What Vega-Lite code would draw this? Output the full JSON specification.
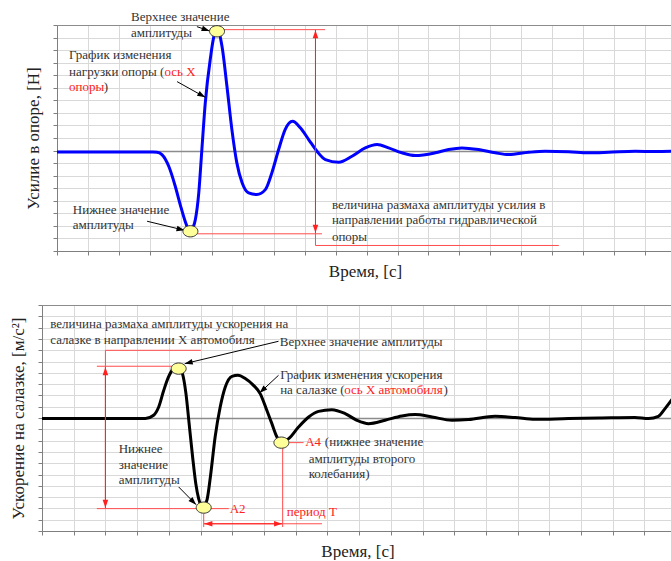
{
  "$schema": "https://vega.github.io/schema/vega-lite/v6.json",
  "background": "white",
  "padding": {"left": 0, "top": 10, "right": 0, "bottom": 0},
  "spacing": 24,
  "config": {
    "view": {"stroke": null},
    "axis": {"grid": true, "gridColor": "#d9d9d9", "gridWidth": 1, "domainColor": "#7f7f7f", "tickColor": "#7f7f7f", "tickSize": 4, "labels": false, "titleFont": "Liberation Serif", "titleFontSize": 17, "titleFontWeight": "normal", "titleColor": "#222222", "titlePadding": 10},
    "axisX": {"titlePadding": 8},
    "axisY": {"gridColor": {"condition": {"test": "datum.value === 0 || datum.value === 10", "value": "#8c8c8c"}, "value": "#d9d9d9"}, "gridWidth": {"condition": {"test": "datum.value === 0", "value": 1.3}, "value": 1}},
    "text": {"font": "Liberation Serif", "fontSize": 13}
  },
  "datasets": {
    "topCurve": [
      {"x":0,"y":-0.12},{"x":1,"y":-0.12},{"x":2,"y":-0.12},{"x":2.75,"y":-0.12},{"x":3.1,"y":-0.12},{"x":3.23,"y":-0.13},{"x":3.39,"y":-0.32},{"x":3.61,"y":-1.25},{"x":3.82,"y":-2.84},{"x":3.98,"y":-4.3},{"x":4.14,"y":-5.63},{"x":4.25,"y":-6.29},{"x":4.31,"y":-6.38},{"x":4.4,"y":-6.1},{"x":4.47,"y":-5.49},{"x":4.58,"y":-3.37},{"x":4.68,"y":0.08},{"x":4.79,"y":3.8},{"x":4.95,"y":7.25},{"x":5.09,"y":9.24},{"x":5.2,"y":9.5},{"x":5.33,"y":8.3},{"x":5.49,"y":5.12},{"x":5.65,"y":1.67},{"x":5.81,"y":-0.98},{"x":5.98,"y":-2.57},{"x":6.19,"y":-3.37},{"x":6.46,"y":-3.5},{"x":6.73,"y":-3.11},{"x":6.94,"y":-1.78},{"x":7.16,"y":0.08},{"x":7.37,"y":1.67},{"x":7.61,"y":2.33},{"x":7.86,"y":1.81},{"x":8.13,"y":0.88},{"x":8.4,"y":-0.06},{"x":8.67,"y":-0.72},{"x":9.1,"y":-0.93},{"x":9.53,"y":-0.45},{"x":9.96,"y":0.21},{"x":10.34,"y":0.48},{"x":10.71,"y":0.21},{"x":11.14,"y":-0.18},{"x":11.57,"y":-0.4},{"x":12.22,"y":-0.18},{"x":12.65,"y":0.08},{"x":13.08,"y":0.21},{"x":13.62,"y":0.08},{"x":14.16,"y":-0.18},{"x":14.59,"y":-0.32},{"x":15.24,"y":-0.14},{"x":15.77,"y":-0.06},{"x":16.53,"y":-0.1},{"x":17.17,"y":-0.18},{"x":17.82,"y":-0.14},{"x":18.68,"y":-0.06},{"x":19.33,"y":-0.08},{"x":19.9,"y":-0.06}
    ],
    "topRed": [
      {"x":5.39,"y":9.63,"x2":8.66,"y2":9.63},
      {"x":4.52,"y":-6.63,"x2":8.56,"y2":-6.63},
      {"x":8.35,"y":9.63,"x2":8.35,"y2":-7.56},
      {"x":8.35,"y":-7.56,"x2":16.21,"y2":-7.56}
    ],
    "topArrows": [
      {"x":8.35,"y":9.58,"x2":8.35,"y2":2,"kind":"red"},
      {"x":8.35,"y":-6.55,"x2":8.35,"y2":2,"kind":"red"},
      {"x":4.93,"y":9.52,"x2":4.52,"y2":9.87,"kind":"black"},
      {"x":4.79,"y":4.24,"x2":3.88,"y2":5.49,"kind":"black"},
      {"x":4.12,"y":-6.35,"x2":2.91,"y2":-5.63,"kind":"black"}
    ],
    "topDots": [{"x":5.17,"y":9.5},{"x":4.31,"y":-6.43}],
    "topText": [
      {"x":2.39,"y":10.67,"t":"Верхнее значение","tone":"note"},
      {"x":2.39,"y":9.39,"t":"амплитуды","tone":"note"},
      {"x":0.39,"y":7.64,"t":"График изменения","tone":"note"},
      {"x":0.39,"y":6.29,"t":"нагрузки опоры (","tone":"note"},
      {"x":3.47,"y":6.29,"t":"ось X","tone":"red"},
      {"x":0.39,"y":5.04,"t":"опоры","tone":"red"},
      {"x":1.51,"y":5.04,"t":")","tone":"note"},
      {"x":0.51,"y":-4.7,"t":"Нижнее значение","tone":"note"},
      {"x":0.51,"y":-5.95,"t":"амплитуды","tone":"note"},
      {"x":8.88,"y":-4.3,"t":"величина размаха амплитуды усилия в","tone":"note"},
      {"x":8.88,"y":-5.57,"t":"направлении работы гидравлической","tone":"note"},
      {"x":8.88,"y":-6.85,"t":"опоры","tone":"note"}
    ],
    "botCurve": [
      {"x":0,"y":-0.05},{"x":1.5,"y":-0.05},{"x":2.84,"y":-0.05},{"x":3.26,"y":-0.05},{"x":3.52,"y":0.24},{"x":3.68,"y":0.97},{"x":3.84,"y":2.45},{"x":3.99,"y":3.63},{"x":4.15,"y":4.37},{"x":4.31,"y":4.51},{"x":4.43,"y":3.93},{"x":4.54,"y":2.16},{"x":4.64,"y":-0.5},{"x":4.75,"y":-3.45},{"x":4.85,"y":-5.81},{"x":4.94,"y":-7.13},{"x":5.07,"y":-7.88},{"x":5.2,"y":-7.28},{"x":5.31,"y":-5.22},{"x":5.46,"y":-1.68},{"x":5.62,"y":0.97},{"x":5.78,"y":2.74},{"x":5.99,"y":3.69},{"x":6.18,"y":3.78},{"x":6.41,"y":3.49},{"x":6.67,"y":2.89},{"x":6.88,"y":2.16},{"x":7.09,"y":0.68},{"x":7.25,"y":-0.5},{"x":7.41,"y":-1.68},{"x":7.55,"y":-2.12},{"x":7.78,"y":-1.82},{"x":8.09,"y":-0.8},{"x":8.41,"y":0.09},{"x":8.72,"y":0.59},{"x":9.14,"y":0.74},{"x":9.56,"y":0.39},{"x":9.93,"y":-0.2},{"x":10.3,"y":-0.5},{"x":10.82,"y":-0.2},{"x":11.35,"y":0.18},{"x":11.77,"y":0.3},{"x":12.3,"y":0.09},{"x":12.93,"y":-0.2},{"x":13.45,"y":-0.14},{"x":14.29,"y":0.15},{"x":14.92,"y":0.04},{"x":15.55,"y":-0.12},{"x":16.6,"y":-0.05},{"x":17.65,"y":0},{"x":18.7,"y":0.04},{"x":19.13,"y":-0.05},{"x":19.44,"y":0.15},{"x":19.65,"y":0.83},{"x":19.89,"y":1.72}
    ],
    "botRed": [
      {"x":2.0,"y":5.99,"x2":5.01,"y2":5.99},
      {"x":2.0,"y":5.99,"x2":2.0,"y2":-8.02},
      {"x":1.73,"y":4.58,"x2":4.1,"y2":4.58},
      {"x":1.73,"y":-8.02,"x2":4.94,"y2":-8.02},
      {"x":5.31,"y":-8.02,"x2":5.89,"y2":-8.02},
      {"x":7.8,"y":-2.18,"x2":8.25,"y2":-2.18},
      {"x":7.59,"y":-2.57,"x2":7.59,"y2":-9.65},
      {"x":5.1,"y":-8.46,"x2":5.1,"y2":-9.65},
      {"x":5.1,"y":-9.36,"x2":8.83,"y2":-9.36}
    ],
    "botArrows": [
      {"x":2.0,"y":4.5,"x2":2.0,"y2":0,"kind":"red"},
      {"x":2.0,"y":-7.95,"x2":2.0,"y2":0,"kind":"red"},
      {"x":5.12,"y":-9.36,"x2":6.5,"y2":-9.36,"kind":"red"},
      {"x":7.57,"y":-9.36,"x2":6.5,"y2":-9.36,"kind":"red"},
      {"x":4.5,"y":4.81,"x2":7.46,"y2":6.79,"kind":"black"},
      {"x":6.86,"y":2.21,"x2":7.46,"y2":3.78,"kind":"black"},
      {"x":4.86,"y":-7.67,"x2":4.31,"y2":-6.1,"kind":"black"}
    ],
    "botDots": [{"x":4.31,"y":4.37},{"x":5.1,"y":-7.93},{"x":7.55,"y":-2.18}],
    "botText": [
      {"x":0.26,"y":8.35,"t":"величина размаха амплитуды ускорения на","tone":"note"},
      {"x":0.26,"y":6.88,"t":"салазке в направлении X автомобиля","tone":"note"},
      {"x":7.5,"y":6.73,"t":"Верхнее значение амплитуды","tone":"note"},
      {"x":7.51,"y":3.78,"t":"График изменения ускорения","tone":"note"},
      {"x":7.51,"y":2.45,"t":"на салазке (","tone":"note"},
      {"x":9.53,"y":2.45,"t":"ось X автомобиля","tone":"red"},
      {"x":12.66,"y":2.45,"t":")","tone":"note"},
      {"x":2.42,"y":-2.71,"t":"Нижнее","tone":"note"},
      {"x":2.42,"y":-4.12,"t":"значение","tone":"note"},
      {"x":2.42,"y":-5.51,"t":"амплитуды","tone":"note"},
      {"x":8.3,"y":-2.15,"t":"A4","tone":"red"},
      {"x":8.92,"y":-2.15,"t":"(нижнее значение","tone":"note"},
      {"x":8.41,"y":-3.65,"t":"амплитуды второго","tone":"note"},
      {"x":8.41,"y":-4.98,"t":"колебания)","tone":"note"},
      {"x":5.92,"y":-8.02,"t":"A2","tone":"red"},
      {"x":7.72,"y":-8.32,"t":"период Т","tone":"red"}
    ]
  },
  "vconcat": [
    {
      "spacing": 0,
      "hconcat": [
        {"width": 24, "height": 10, "data": {"values": []}, "mark": "text"},
        {
          "width": 616,
          "height": 226,
          "encoding": {
            "x": {"field": "x", "type": "quantitative", "scale": {"domain": [0, 19.9], "nice": false, "zero": false}, "axis": {"values": [0,1,2,3,4,5,6,7,8,9,10,11,12,13,14,15,16,17,18,19], "title": "Время, [с]"}},
            "y": {"field": "y", "type": "quantitative", "scale": {"domain": [-8, 10], "nice": false, "zero": false}, "axis": {"values": [-8,-7,-6,-5,-4,-3,-2,-1,0,1,2,3,4,5,6,7,8,9,10], "title": "Усилие в опоре, [Н]"}}
          },
          "layer": [
            {
              "data": {"name": "topCurve"},
              "mark": {"type": "line", "color": "#0000ff", "strokeWidth": 3, "interpolate": "monotone"}
            },
            {
              "data": {"name": "topRed"},
              "mark": {"type": "rule", "color": "#ff4d4d", "strokeWidth": 1},
              "encoding": {"x2": {"field": "x2"}, "y2": {"field": "y2"}}
            },
            {
              "data": {"name": "topArrows"},
              "transform": [{"calculate": "atan2((datum.x - datum.x2) * 30.96, (datum.y - datum.y2) * 12.56) * 180 / PI", "as": "ang"}],
              "layer": [
                {
                  "mark": {"type": "rule", "strokeWidth": 1},
                  "encoding": {
                    "x2": {"field": "x2"},
                    "y2": {"field": "y2"},
                    "color": {"field": "kind", "type": "nominal", "scale": {"domain": ["note", "red", "black"], "range": ["#333333", "#ff2020", "#000000"]}, "legend": null}
                  }
                },
                {
                  "mark": {"type": "point", "shape": "M0,0L0.7,2L-0.7,2Z", "size": 64, "filled": true, "opacity": 1},
                  "encoding": {
                    "angle": {"field": "ang", "type": "quantitative", "scale": null},
                    "color": {"field": "kind", "type": "nominal", "scale": {"domain": ["note", "red", "black"], "range": ["#333333", "#ff2020", "#000000"]}, "legend": null}
                  }
                }
              ]
            },
            {
              "data": {"name": "topDots"},
              "mark": {"type": "point", "shape": "M-1,0A1,0.75,0,1,1,1,0A1,0.75,0,1,1,-1,0Z", "size": 225, "filled": true, "fill": "#ffff99", "stroke": "#333333", "strokeWidth": 1, "opacity": 1}
            },
            {
              "data": {"name": "topText"},
              "mark": {"type": "text", "align": "left", "baseline": "middle", "font": "Liberation Serif", "fontSize": 13},
              "encoding": {
                "text": {"field": "t"},
                "color": {"field": "tone", "type": "nominal", "scale": {"domain": ["note", "red", "black"], "range": ["#333333", "#ff2020", "#000000"]}, "legend": null}
              }
            }
          ]
        }
      ]
    },
    {
      "spacing": 0,
      "hconcat": [
        {"width": 9, "height": 10, "data": {"values": []}, "mark": "text"},
        {
          "width": 631,
          "height": 226,
          "encoding": {
            "x": {"field": "x", "type": "quantitative", "scale": {"domain": [0, 19.9], "nice": false, "zero": false}, "axis": {"values": [0,1,2,3,4,5,6,7,8,9,10,11,12,13,14,15,16,17,18,19], "title": "Время, [с]"}},
            "y": {"field": "y", "type": "quantitative", "scale": {"domain": [-10, 10], "nice": false, "zero": false}, "axis": {"values": [-10,-9,-8,-7,-6,-5,-4,-3,-2,-1,0,1,2,3,4,5,6,7,8,9,10], "title": "Ускорение на салазке, [м/с²]"}}
          },
          "layer": [
            {
              "data": {"name": "botCurve"},
              "mark": {"type": "line", "color": "#000000", "strokeWidth": 3, "interpolate": "monotone"}
            },
            {
              "data": {"name": "botRed"},
              "mark": {"type": "rule", "color": "#ff4d4d", "strokeWidth": 1},
              "encoding": {"x2": {"field": "x2"}, "y2": {"field": "y2"}}
            },
            {
              "data": {"name": "botArrows"},
              "transform": [{"calculate": "atan2((datum.x - datum.x2) * 31.72, (datum.y - datum.y2) * 11.3) * 180 / PI", "as": "ang"}],
              "layer": [
                {
                  "mark": {"type": "rule", "strokeWidth": 1},
                  "encoding": {
                    "x2": {"field": "x2"},
                    "y2": {"field": "y2"},
                    "color": {"field": "kind", "type": "nominal", "scale": {"domain": ["note", "red", "black"], "range": ["#333333", "#ff2020", "#000000"]}, "legend": null}
                  }
                },
                {
                  "mark": {"type": "point", "shape": "M0,0L0.7,2L-0.7,2Z", "size": 64, "filled": true, "opacity": 1},
                  "encoding": {
                    "angle": {"field": "ang", "type": "quantitative", "scale": null},
                    "color": {"field": "kind", "type": "nominal", "scale": {"domain": ["note", "red", "black"], "range": ["#333333", "#ff2020", "#000000"]}, "legend": null}
                  }
                }
              ]
            },
            {
              "data": {"name": "botDots"},
              "mark": {"type": "point", "shape": "M-1,0A1,0.75,0,1,1,1,0A1,0.75,0,1,1,-1,0Z", "size": 225, "filled": true, "fill": "#ffff99", "stroke": "#333333", "strokeWidth": 1, "opacity": 1}
            },
            {
              "data": {"name": "botText"},
              "mark": {"type": "text", "align": "left", "baseline": "middle", "font": "Liberation Serif", "fontSize": 13},
              "encoding": {
                "text": {"field": "t"},
                "color": {"field": "tone", "type": "nominal", "scale": {"domain": ["note", "red", "black"], "range": ["#333333", "#ff2020", "#000000"]}, "legend": null}
              }
            }
          ]
        }
      ]
    }
  ]
}
